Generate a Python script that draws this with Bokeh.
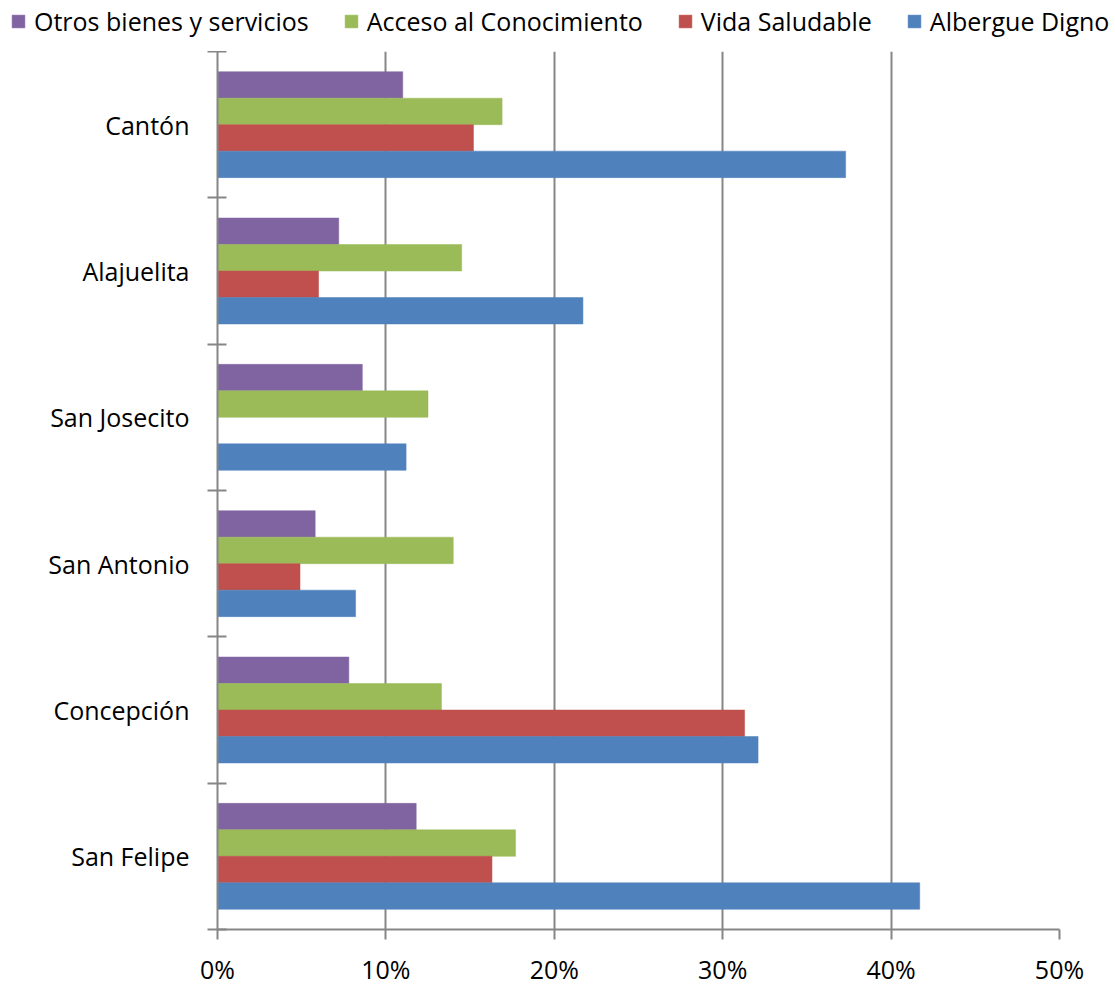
from bokeh.plotting import figure
from bokeh.layouts import column
from bokeh.models import (ColumnDataSource, Range1d, FixedTicker, Legend, LegendItem,
                          PrintfTickFormatter)
from bokeh.embed import file_html
from bokeh.resources import INLINE

# ---- data (percent) ----
categories = ["Cantón", "Alajuelita", "San Josecito", "San Antonio", "Concepción", "San Felipe"]
series_names = ["Otros bienes y servicios", "Acceso al Conocimiento", "Vida Saludable", "Albergue Digno"]
otros = [11.0, 7.2, 8.6, 5.8, 7.8, 11.8]
acceso = [16.9, 14.5, 12.5, 14.0, 13.3, 17.7]
vida = [15.2, 6.0, 0.0, 4.9, 31.3, 16.3]
albergue = [37.3, 21.7, 11.2, 8.2, 32.1, 41.7]
x_ticks = [0, 10, 20, 30, 40, 50]

colors = ["#8064A2", "#9BBB59", "#C0504D", "#4F81BD"]
FONT = "Open Sans"
FS = "25px"
AX = "#868686"

W = 1115
LEG_H = 51
H = 988 - LEG_H
BL, BR, BT, BB = 217, 56, 0, 56

n = len(categories)
centers = [n - i - 0.5 for i in range(n)]
boundaries = list(range(n + 1))
bar_h = 0.181
offsets = [1.5 * bar_h, 0.5 * bar_h, -0.5 * bar_h, -1.5 * bar_h]

p = figure(width=W, height=H, output_backend="svg", toolbar_location=None,
           x_range=Range1d(0, 50), y_range=Range1d(0, n),
           min_border_left=BL, min_border_right=BR, min_border_top=BT, min_border_bottom=BB)
p.frame_align = False
p.outline_line_color = None
p.background_fill_color = "white"
p.border_fill_color = "white"

# legend strip (shares the same data sources; its view range keeps bars out of sight)
lf = figure(width=W, height=LEG_H, output_backend="svg", toolbar_location=None,
            x_range=Range1d(-20, -10), y_range=Range1d(0, n),
            x_axis_location=None, y_axis_location=None,
            min_border_left=0, min_border_right=0, min_border_top=0, min_border_bottom=0)
lf.frame_align = False
lf.outline_line_color = None
lf.xgrid.visible = False
lf.ygrid.visible = False

renderers = []
legend_renderers = []
for vals, off, col in zip([otros, acceso, vida, albergue], offsets, colors):
    src = ColumnDataSource(dict(y=[c + off for c in centers], right=vals))
    r = p.hbar(y="y", left=0, right="right", height=bar_h, source=src,
               fill_color=col, line_color=col, line_width=0.5)
    renderers.append(r)
    lr = lf.hbar(y="y", left=0, right="right", height=bar_h, source=src,
                 fill_color=col, line_color=col, line_width=0.5)
    legend_renderers.append(lr)

# x axis
p.xaxis.ticker = FixedTicker(ticks=x_ticks)
p.xaxis.formatter = PrintfTickFormatter(format="%d%%")
p.xaxis.axis_line_color = AX
p.xaxis.axis_line_width = 2
p.xaxis.major_tick_line_color = AX
p.xaxis.major_tick_line_width = 2
p.xaxis.major_tick_out = 10
p.xaxis.major_tick_in = 0
p.xaxis.minor_tick_line_color = None
p.xaxis.major_label_text_font = FONT
p.xaxis.major_label_text_font_size = FS
p.xaxis.major_label_text_color = "black"
p.xaxis.major_label_standoff = 12

# y axis
p.yaxis.ticker = FixedTicker(ticks=centers, minor_ticks=boundaries)
p.yaxis.major_label_overrides = {c: name for c, name in zip(centers, categories)}
p.yaxis.axis_line_color = AX
p.yaxis.axis_line_width = 2
p.yaxis.major_tick_line_color = None
p.yaxis.major_tick_out = 10
p.yaxis.major_tick_in = 0
p.yaxis.minor_tick_line_color = AX
p.yaxis.minor_tick_line_width = 2
p.yaxis.minor_tick_out = 10
p.yaxis.minor_tick_in = 9
p.yaxis.major_label_text_font = FONT
p.yaxis.major_label_text_font_size = FS
p.yaxis.major_label_text_color = "black"
p.yaxis.major_label_standoff = 18

p.xgrid.ticker = FixedTicker(ticks=x_ticks)
p.xgrid.grid_line_color = AX
p.xgrid.grid_line_width = 2
p.ygrid.grid_line_color = None

legend = Legend(items=[LegendItem(label=nm, renderers=[r]) for nm, r in zip(series_names, legend_renderers)],
                orientation="horizontal", location=(10, 13),
                glyph_width=16, glyph_height=16, label_standoff=8, spacing=34,
                padding=0, margin=0, border_line_color=None, background_fill_alpha=0,
                label_text_font=FONT, label_text_font_size=FS, label_text_color="black")
lf.add_layout(legend, "center")

layout = column(lf, p, spacing=0)
open("out.html", "w").write(file_html(layout, INLINE))
